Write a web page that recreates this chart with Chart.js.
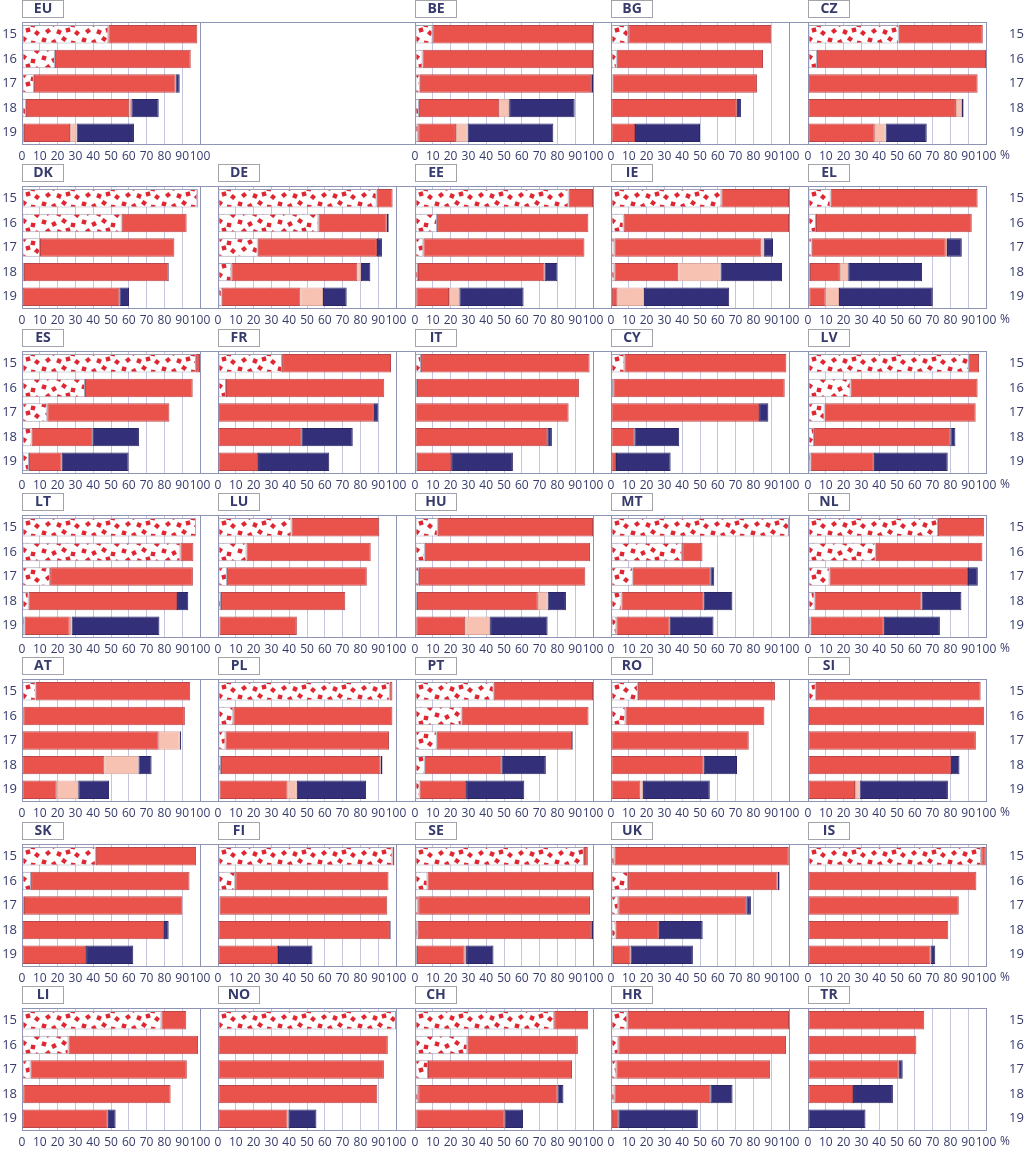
<!DOCTYPE html>
<html>
<head>
<meta charset="utf-8">
<script src="https://cdn.jsdelivr.net/npm/chart.js@4.4.1/dist/chart.umd.min.js"></script>
<style>
body { margin: 0; background: #fff; }
#wrap { position: relative; width: 1024px; height: 1152px; overflow: hidden; }
#wrap canvas { position: absolute; }
</style>
</head>
<body>
<div id="wrap"></div>
<script>
// pupils aged 15-19 by level, % of age group
var countries = ['EU','BE','BG','CZ','DK','DE','EE','IE','EL','ES','FR','IT','CY','LV','LT','LU','HU','MT','NL',
                 'AT','PL','PT','RO','SI','SK','FI','SE','UK','IS','LI','NO','CH','HR','TR'];
var ages = ['15','16','17','18','19'];
var xTicks = [0,10,20,30,40,50,60,70,80,90,100];

// lower secondary (dotted)
var lowerSec = [
  [48.5,18.5,6.7,2.2,1.1],[9.8,4.2,2.7,2.2,1.8],[9.7,3.2,0.9,0.2,0],[51,5,0.4,0,0],
  [98.5,56,10.1,1.1,0.4],[89.1,56.4,22.3,7.5,2.1],[86.3,12.4,4.7,1.7,0.7],[62,7.1,1.9,1.9,0.6],
  [12.7,4.5,2.1,1.1,0.7],[97.8,35.4,14.2,5.4,3.9],[36,4.5,0.4,0.2,0],[3.4,1.1,0,0,1],
  [7.5,1.3,0,0,0],[90.3,23.9,9.3,3.4,1.5],[97.8,89,15.8,3.7,1.5],[41.3,16,5,1.7,0.9],
  [12.8,5.5,2.2,1.1,0.7],[100,40,12.2,5.9,3],[73,38.1,12.1,3.7,1.5],[7.7,0.7,0,0,0],
  [96.5,8.6,4.2,1.7,0.9],[44.2,26.2,12.2,5.5,2.6],[15.1,8.1,0,0,0],[4.4,0.5,0,0,0],
  [41.5,5.1,1.1,0.4,0],[98,9.7,0.9,0,0],[94.9,7,1.8,1.5,1.1],[1.9,9.6,4.1,2.6,1.1],
  [97.3,0,0,0,0],[78.3,26.1,4.8,0.7,0],[100,0,0,0,0],[78.2,29.4,7.3,1.8,0.7],
  [9.2,4.1,3,1.9,0.5],[0,0,0,0,0]
];
// upper secondary (red)
var upperSec = [
  [50,76.3,79.6,58.1,25.9],[90.2,95.8,96.3,45.1,21.2],[80.3,82.2,81.1,70.5,13.5],[47.2,95,94.9,83.1,37.5],
  [0.5,36.5,75.5,81.1,54.3],[9,38.4,67,70.8,44.2],[13.7,85,90.5,71.1,18.4],[38,92.9,82.6,35.9,3.1],
  [82.6,87.5,75.3,16.8,9.2],[2.2,60.5,68.6,34.1,18.4],[61.2,88.9,87.2,46.6,22.5],[94.7,91,86.3,74.3,19.3],
  [91,96.3,83.2,13.1,2.8],[5.8,71.4,84.9,76.6,35.5],[0,7.3,80.2,83.4,25.3],[49.3,69.8,78.6,69.8,43.4],
  [87.2,92.8,93.5,67.9,27.5],[0,11.4,43.6,46.2,30],[26,59.9,77.8,60.1,41.1],[86.8,90.8,76.8,46.3,19.5],
  [1.5,89.4,91.9,89.6,38.2],[55.8,71.3,76,43,26.1],[77,78.1,77.4,52.1,16.5],[92.6,98.5,94.3,80.3,26.4],
  [56.3,89,89,79.4,36],[1.1,86.1,94.2,96.6,33.7],[2.2,93,96.5,97.5,26.8],[98,84,71.9,24.3,9.9],
  [2.6,94.6,84.7,78.8,68.9],[14,72.8,87.8,82.8,48.2],[0,95.4,93.2,89.5,39.1],[19.1,62.1,80.9,78.3,49.7],
  [90.8,94.2,86.4,53.9,3.6],[65.3,60.9,51,25.3,0]
];
// post-secondary non-tertiary (pink)
var postSec = [
  [0,0,0,1.1,3.7],[0,0,0,5.6,6.5],[0,0,0,0,0],[0,0,0,3.4,6.1],
  [0,0,0,0,0],[0,0,0,2,12.7],[0,0,0,0,5.8],[0,0,1.3,23.7,14.8],
  [0,0,0.7,4.7,7.5],[0,0,0,0,0],[0,0,0,0,0],[0,0,0,0,0],
  [0,0,0,0,0],[0,0,0,0,0],[0,0,0,0,1.1],[0,0,0,0,0],
  [0,0,0,5.5,14],[0,0,0,0,0],[0,0,0,0,0],[0,0,11.8,19.1,12.1],
  [0,0,0,0,5.2],[0,0,0,0,0],[0,0,0,0,1.5],[0,0,0,0,2.6],
  [0,0,0,0,0],[0,0,0,0,0],[0,0,0,0,0.8],[0,0,0,0,0],
  [0,0,0,0,0],[0,0,0,0,0],[0,0,0,0,0.4],[0,0,0,0,0],
  [0,0,0,0,0],[0,0,0,0,0]
];
// tertiary (navy)
var tertiary = [
  [0,0,2.3,15.4,32.2],[0,0,1,36.8,48.2],[0,0,0,2.3,36.5],[0,0,0,0.9,23.1],
  [0,0,0,0.4,5.4],[0,1.1,2.8,5.3,13.3],[0,0,0,7.2,36.1],[0,0,5.2,34.6,47.9],
  [0,0,8.3,41.5,52.7],[0,0,0,26.2,37.6],[0,0,2.5,28.9,40],[0,0,0,2.6,34.7],
  [0,0,5.2,25.2,30.7],[0,0,0,2.8,41.5],[0,0,0,6.3,49.3],[0,0,0,0,0],
  [0,0,0,10.3,32.3],[0,0,2.2,16.1,24.6],[0,0,5.5,22.4,31.5],[0,0,0.7,7.4,17.3],
  [0,0,0,1.1,38.9],[0,0,0.4,25,32.7],[0,0,0,18.7,37.5],[0,0,0,4.8,49.6],
  [0,0,0,2.6,26.5],[0,0,0,0.4,19.4],[0,0,0,1,15.4],[0,1.1,2.6,24.6,35],
  [0,0,0,0,2.6],[0,0,0,0,4.4],[0,0,0,0,15.8],[0,0,0,3.3,10.3],
  [0,0,0,12.5,44.7],[0,0,2.2,22.4,32.3]
];

var textColor = '#363b6b';
var frameColor = '#8f93b5';
var gridColor = '#c3c6dc';
var redColor = '#e9534b';
var pinkColor = '#f8c2b3';
var navyColor = '#332f78';

var colX = [22, 218, 415, 611, 808];
var rowY = [22, 186, 351, 515, 679, 844, 1008];
var panelW = 178, panelH = 123;

function makeDots() {
  var c = document.createElement('canvas');
  c.width = 40; c.height = 18;
  var g = c.getContext('2d');
  g.fillStyle = '#fff';
  g.fillRect(0, 0, 40, 18);
  g.fillStyle = '#df2631';
  var pts = [[4,4,0.3],[14,6,1.1],[24,3,0.6],[33,7,0.2],[8,13,0.9],[19,14,0.4],[28,12,1.3],[37,15,0.7]];
  pts.forEach(function (p) {
    g.save(); g.translate(p[0], p[1]); g.rotate(p[2]);
    g.fillRect(-2.2, -2.2, 4.4, 4.4);
    g.restore();
  });
  return g.createPattern(c, 'repeat');
}
var dots = makeDots();

function panelPlugin(code, ext, col) {
  return {
    id: 'panel',
    beforeDatasetsDraw: function (chart) {
      var a = chart.chartArea, g = chart.ctx;
      g.save();
      g.strokeStyle = frameColor;
      g.lineWidth = 1;
      g.beginPath();
      g.moveTo(a.left, a.top + 0.5); g.lineTo(a.right + ext, a.top + 0.5);
      g.moveTo(a.left, a.bottom - 0.5); g.lineTo(a.right + ext, a.bottom - 0.5);
      g.stroke();
      g.restore();
    },
    afterDraw: function (chart) {
      var a = chart.chartArea, g = chart.ctx, ys = chart.scales.y;
      g.save();
      g.fillStyle = '#fff';
      g.strokeStyle = '#a3a3aa';
      g.lineWidth = 1;
      g.fillRect(a.left + 0.5, a.top - 21.5, 41, 17);
      g.strokeRect(a.left + 0.5, a.top - 21.5, 41, 17);
      g.fillStyle = textColor;
      g.font = 'bold 14px "Open Sans"';
      g.textAlign = 'center';
      g.textBaseline = 'middle';
      g.fillText(code, a.left + 21, a.top - 12.5);
      // age labels on the outer sides of each row
      g.font = '13px "Open Sans"';
      if (col === 0) {
        g.textAlign = 'right';
        ages.forEach(function (ag, k) { g.fillText(ag, a.left - 5, ys.getPixelForValue(k)); });
      }
      if (col === 4) {
        g.textAlign = 'left';
        ages.forEach(function (ag, k) { g.fillText(ag, a.right + 23, ys.getPixelForValue(k)); });
        g.textAlign = 'center';
        g.font = '12px "Open Sans"';
        g.fillText('%', a.right + 19, a.bottom + 11);
      }
      g.restore();
    }
  };
}

var wrap = document.getElementById('wrap');
var bw = function (ctx) { return ctx.raw > 0 ? 1 : 0; };

countries.forEach(function (code, i) {
  var slot = i === 0 ? 0 : i + 1;
  var col = slot % 5, row = Math.floor(slot / 5);
  var ext = slot === 0 ? colX[2] - colX[0] - panelW : (col < 4 ? colX[col + 1] - colX[col] - panelW : 0);
  var padR = col === 4 ? 38 : Math.max(ext, 40);
  var width = 22 + panelW + padR;
  var height = 22 + panelH + 22;

  var cv = document.createElement('canvas');
  cv.width = width; cv.height = height;
  cv.style.left = (colX[col] - 22) + 'px';
  cv.style.top = (rowY[row] - 22) + 'px';
  cv.style.width = width + 'px'; cv.style.height = height + 'px';
  wrap.appendChild(cv);

  new Chart(cv, {
    type: 'bar',
    data: {
      labels: ages,
      datasets: [
        { label: 'Lower secondary', data: lowerSec[i], backgroundColor: dots, borderColor: '#a4a2b6', borderWidth: bw },
        { label: 'Upper secondary', data: upperSec[i], backgroundColor: redColor, borderColor: '#b8474c', borderWidth: bw },
        { label: 'Post-secondary non-tertiary', data: postSec[i], backgroundColor: pinkColor, borderColor: '#d9a8a0', borderWidth: bw },
        { label: 'Tertiary', data: tertiary[i], backgroundColor: navyColor, borderColor: '#2a2664', borderWidth: bw }
      ]
    },
    options: {
      indexAxis: 'y',
      responsive: false,
      animation: false,
      devicePixelRatio: 1,
      barPercentage: 0.75,
      categoryPercentage: 1,
      borderSkipped: false,
      layout: { padding: { top: 22, bottom: 0, left: 0, right: padR } },
      plugins: { legend: { display: false }, tooltip: { enabled: false } },
      scales: {
        x: {
          min: 0, max: 100, stacked: true,
          afterBuildTicks: function (s) { s.ticks = xTicks.map(function (v) { return { value: v }; }); },
          afterFit: function (s) { s.height = 22; },
          border: { display: false },
          grid: {
            drawTicks: false,
            color: function (c) { return (c.tick.value === 0 || c.tick.value === 100) ? frameColor : gridColor; }
          },
          ticks: { autoSkip: false, maxRotation: 0, padding: 4, color: textColor, font: { family: 'Open Sans', size: 12 } }
        },
        y: {
          type: 'category', labels: ages, stacked: true, position: 'left',
          afterFit: function (s) { s.width = 22; },
          border: { display: false },
          grid: { display: false, drawTicks: false, tickLength: 0 },
          ticks: { display: false }
        }
      }
    },
    plugins: [panelPlugin(code, ext, col)]
  });
});
</script>
</body>
</html>
